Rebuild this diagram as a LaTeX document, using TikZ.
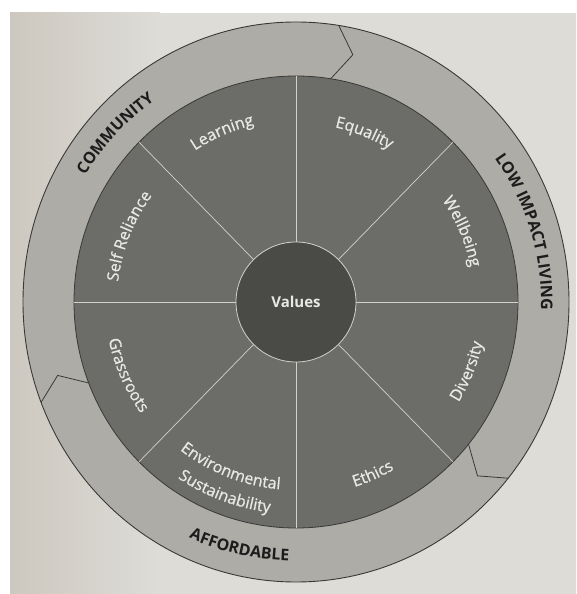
\documentclass[tikz,border=0pt]{standalone}
\usepackage{fontspec}
\setmainfont{Open Sans}
\newfontfamily\labfont[FakeBold=0.9]{Open Sans}
\usetikzlibrary{decorations.text}
\definecolor{pagebg}{HTML}{DDDCD7}
\definecolor{pageshade}{HTML}{CDC8BF}
\definecolor{ringc}{HTML}{ADACA7}
\definecolor{diskc}{HTML}{6C6C68}
\definecolor{corec}{HTML}{4A4A47}
\definecolor{divc}{HTML}{D2D2CD}
\definecolor{edgec}{HTML}{393937}
\definecolor{labc}{HTML}{E8E8E4}
\definecolor{ringlab}{HTML}{1C1C1C}
\newcommand\inlab{\labfont\fontsize{16}{16}\selectfont\color{labc}}
\newcommand\outlab{\bfseries\fontsize{16}{16}\selectfont\color{ringlab}}
% clockwise arc text (tops outward)
\newcommand\cwlabel[4]{\path[decorate,decoration={text along path,text align=center,text={|#3|#4}}]
  ([shift={(#1+40:#2pt)}]c) arc[start angle=#1+40,end angle=#1-40,radius=#2pt];}
% counter-clockwise arc text (tops inward)
\newcommand\ccwlabel[4]{\path[decorate,decoration={text along path,text align=center,text={|#3|#4}}]
  ([shift={(#1-40:#2pt)}]c) arc[start angle=#1-40,end angle=#1+40,radius=#2pt];}
\tikzset{
  chevron/.style={draw=edgec,line width=0.8pt,line join=miter},
  divider/.style={draw=divc,line width=0.7pt},
}
\begin{document}
\begin{tikzpicture}[x=1pt,y=1pt]
\useasboundingbox (0,0) rectangle (576,594);
\fill[white] (0,0) rectangle (576,594);
\fill[pagebg] (10,0) rectangle (576,581);
\shade[left color=pageshade,right color=pagebg] (10,0) rectangle (160,581);
\coordinate (c) at (296,292);
% outer ring
\filldraw[fill=ringc,draw=edgec,line width=0.9pt] (c) ellipse[x radius=273pt,y radius=280pt];
\foreach \b in {81,-39,201}
  \draw[chevron] ([shift={({273*cos(\b)},{280*sin(\b)})}]c)
    -- ([shift={({249*cos(\b-4.2)},{254*sin(\b-4.2)})}]c)
    -- ([shift={({222*cos(\b)},{226*sin(\b)})}]c);
% middle disk
\filldraw[fill=diskc,draw=edgec,line width=0.8pt] (c) ellipse[x radius=222pt,y radius=226pt];
\foreach \a in {0,45,...,315}
  \draw[divider] ([shift={(\a:60pt)}]c) -- ([shift={({222*cos(\a)},{226*sin(\a)})}]c);
% core
\node[circle,fill=corec,draw=divc,line width=0.8pt,minimum size=120pt,inner sep=0pt,
  text=labc,font=\bfseries\fontsize{15}{15}\selectfont] (values) at (c) {Values};
% inner labels
\cwlabel{113.5}{182}{\inlab}{Learning}
\cwlabel{68}{179}{\inlab}{Equality}
\cwlabel{23}{178}{\inlab}{Wellbeing}
\cwlabel{158.5}{179}{\inlab}{Self Reliance}
\ccwlabel{-22}{191}{\inlab}{Diversity}
\ccwlabel{-66}{194}{\inlab}{Ethics}
\ccwlabel{-111.5}{188}{\inlab}{Environmental}
\ccwlabel{-110.5}{212}{\inlab}{Sustainability}
\ccwlabel{-156.5}{191}{\inlab}{Grassroots}
% ring labels
\cwlabel{137}{246}{\outlab}{COMMUNITY}
\cwlabel{17}{245}{\outlab}{LOW IMPACT LIVING}
\ccwlabel{-103}{259}{\outlab}{AFFORDABLE}
\end{tikzpicture}
\end{document}
